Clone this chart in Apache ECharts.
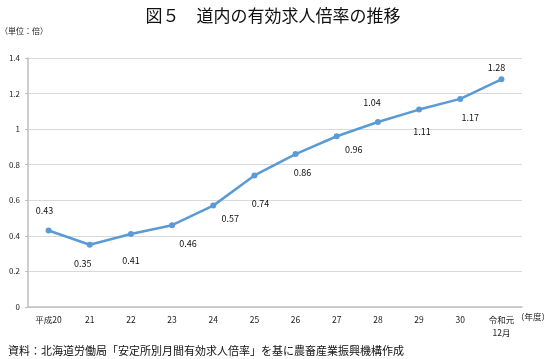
<!DOCTYPE html>
<html><head><meta charset="utf-8">
<script src="https://cdn.jsdelivr.net/npm/echarts@6/dist/echarts.min.js"></script>
<style>html,body{margin:0;padding:0;background:#fff}#c{width:546px;height:359px}</style>
</head><body><div id="c"></div>
<script>
const categories = ['平成20','21','22','23','24','25','26','27','28','29','30','令和元\n12月'];
const values = [0.43,0.35,0.41,0.46,0.57,0.74,0.86,0.96,1.04,1.11,1.17,1.28];
const yTicks = [0,0.2,0.4,0.6,0.8,1,1.2,1.4];

// label placement (style only): offsets of each value label from its point, in px
const labelOffsets = [[-4,-20],[-7,19],[0,26],[16,18],[17,13],[6,28],[7,19],[17,13],[-6,-19],[3,22],[10,19],[-5,-12]];

const font = '"Noto Sans CJK JP", "Noto Sans", sans-serif';
const chart = echarts.init(document.getElementById('c'));
chart.setOption({
  animation: false,
  textStyle: {fontFamily: font},
  title: {text: '図５　道内の有効求人倍率の推移', left: 'center', top: 2,
    textStyle: {fontSize: 17, fontWeight: 'normal', color: '#111', fontFamily: font}},
  grid: {left: 28, right: 24, top: 58, bottom: 52},
  xAxis: {type: 'category', data: categories, boundaryGap: true,
    axisLine: {lineStyle: {color: '#bfbfbf', width: 1.5}}, axisTick: {show: false},
    axisLabel: {color: '#222', fontSize: 8.5, margin: 6, lineHeight: 13, interval: 0}},
  yAxis: {type: 'value', min: 0, max: 1.4, interval: 0.2,
    axisLine: {show: true, lineStyle: {color: '#bfbfbf', width: 1.5}},
    axisTick: {show: true, length: 3, lineStyle: {color: '#bfbfbf'}},
    splitLine: {lineStyle: {color: '#d9d9d9'}},
    axisLabel: {color: '#222', fontSize: 8, margin: 8,
      formatter: v => yTicks.includes(Math.round(v*10)/10) ? String(Math.round(v*10)/10) : ''}},
  series: [{type: 'line', symbol: 'circle', symbolSize: 6,
    lineStyle: {color: '#5b9bd5', width: 2.5}, itemStyle: {color: '#5b9bd5'},
    data: values.map((v, i) => ({value: v, label: {show: true,
      position: 'inside', offset: labelOffsets[i],
      fontSize: 9, color: '#111', formatter: p => p.value.toFixed(2)}}))}],
  graphic: [
    {type: 'text', left: 0, top: 27, style: {text: '（単位：倍）', fontSize: 8, fill: '#222', fontFamily: font}},
    {type: 'text', left: 516, top: 313, style: {text: '（年度）', fontSize: 8.5, fill: '#222', fontFamily: font}},
    {type: 'text', left: 8, top: 345, style: {text: '資料：北海道労働局「安定所別月間有効求人倍率」を基に農畜産業振興機構作成', fontSize: 11, fill: '#111', fontFamily: font}}
  ]
});
</script></body></html>
